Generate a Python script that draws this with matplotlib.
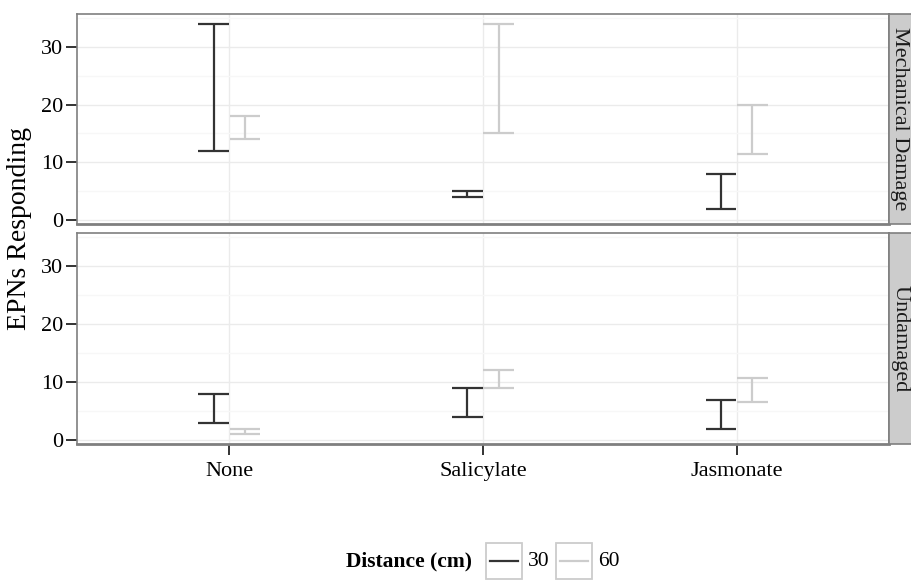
import matplotlib
matplotlib.use("Agg")
import matplotlib.pyplot as plt
from matplotlib.patches import Rectangle
from matplotlib.lines import Line2D

plt.rcParams['font.family'] = ['Liberation Serif', 'DejaVu Serif']

# Data: lower / upper bounds of EPNs responding per treatment, distance and damage
treatments = ["None", "Salicylate", "Jasmonate"]
facets = ["Mechanical Damage", "Undamaged"]
distances = ["30", "60"]

mech_30_low = [12, 4, 2]
mech_30_high = [34, 5, 8]
mech_60_low = [14, 15, 11.5]
mech_60_high = [18, 34, 20]

und_30_low = [3, 4, 2]
und_30_high = [8, 9, 7]
und_60_low = [1, 9, 6.5]
und_60_high = [2, 12, 10.7]

yticks = [0, 10, 20, 30]
minor_yticks = [5, 15, 25, 35]

colors = {"30": "#333333", "60": "#CCCCCC"}
panel_data = {
    "Mechanical Damage": {"30": (mech_30_low, mech_30_high), "60": (mech_60_low, mech_60_high)},
    "Undamaged": {"30": (und_30_low, und_30_high), "60": (und_60_low, und_60_high)},
}

W, H = 911, 581
fig = plt.figure(figsize=(W / 100, H / 100), dpi=100)

left_px, right_px = 77, 889
panels_px = [(14, 224), (233, 444)]
dodge = 0.062
cap = 0.122
border_col = "#7F7F7F"

all_vals = mech_30_low + mech_30_high + mech_60_low + mech_60_high + \
    und_30_low + und_30_high + und_60_low + und_60_high
lo, hi = min(all_vals), max(all_vals)
pad = (hi - lo) * 0.05
ylim = (lo - pad, hi + pad)

x = list(range(1, len(treatments) + 1))

for i, (facet, (top, bot)) in enumerate(zip(facets, panels_px)):
    ax = fig.add_axes([left_px / W, 1 - bot / H, (right_px - left_px) / W, (bot - top) / H])
    ax.set_xlim(0.4, len(treatments) + 0.6)
    ax.set_ylim(*ylim)
    ax.set_yticks(yticks)
    ax.set_yticks(minor_yticks, minor=True)
    ax.set_xticks(x)
    ax.grid(True, which="major", color="#EBEBEB", lw=1.0, zorder=0)
    ax.grid(True, which="minor", axis="y", color="#F7F7F7", lw=1.0, zorder=0)
    ax.set_axisbelow(True)
    for s in ax.spines.values():
        s.set_color(border_col)
        s.set_linewidth(1.2)
    ax.spines["bottom"].set_linewidth(2.0)
    ax.tick_params(axis="both", which="major", length=8, width=1.4, color="#333333",
                   labelsize=16, labelcolor="black", pad=2)
    ax.tick_params(axis="x", which="major", pad=5)
    ax.tick_params(axis="both", which="minor", length=0)
    if i == 0:
        ax.tick_params(axis="x", labelbottom=False, length=0)
    else:
        ax.set_xticklabels(treatments)

    for d, off in zip(distances, (-dodge, dodge)):
        lows, highs = panel_data[facet][d]
        for xi, l, h in zip(x, lows, highs):
            xc = xi + off
            ax.plot([xc, xc], [l, h], color=colors[d], lw=1.6, solid_capstyle="butt", zorder=3)
            ax.plot([xc - cap / 2, xc + cap / 2], [l, l], color=colors[d], lw=1.6,
                    solid_capstyle="butt", zorder=3)
            ax.plot([xc - cap / 2, xc + cap / 2], [h, h], color=colors[d], lw=1.6,
                    solid_capstyle="butt", zorder=3)

    # facet strip on the right
    sax = fig.add_axes([right_px / W, 1 - bot / H, (W - right_px + 2) / W, (bot - top) / H])
    sax.set_facecolor("#CCCCCC")
    sax.set_xticks([])
    sax.set_yticks([])
    for s in sax.spines.values():
        s.set_color(border_col)
        s.set_linewidth(1.2)
    sax.text(0.45, 0.5, facet, rotation=-90, ha="center", va="center",
             fontsize=16, transform=sax.transAxes, color="#1A1A1A")

fig.text(20 / W, 1 - 229 / H, "EPNs Responding", rotation=90, ha="center", va="center",
         fontsize=20)

# legend drawn along the bottom
leg_y = 1 - 561 / H
fig.text(409 / W, leg_y, "Distance (cm)", ha="center", va="center", fontsize=15.5,
         fontweight="bold")
box_w, box_h = 36 / W, 36 / H
for d, bx, tx in zip(distances, (486, 556), (528, 598)):
    fig.patches.append(Rectangle((bx / W, leg_y - box_h / 2), box_w, box_h,
                                 transform=fig.transFigure, facecolor="white",
                                 edgecolor="#CCCCCC", lw=1.3))
    fig.lines.append(Line2D([(bx + 4) / W, (bx + 32) / W], [leg_y, leg_y],
                            transform=fig.transFigure, color=colors[d], lw=1.6))
    fig.text(tx / W, leg_y, d, ha="left", va="center", fontsize=15.5)

fig.savefig("out.png", dpi=100)
